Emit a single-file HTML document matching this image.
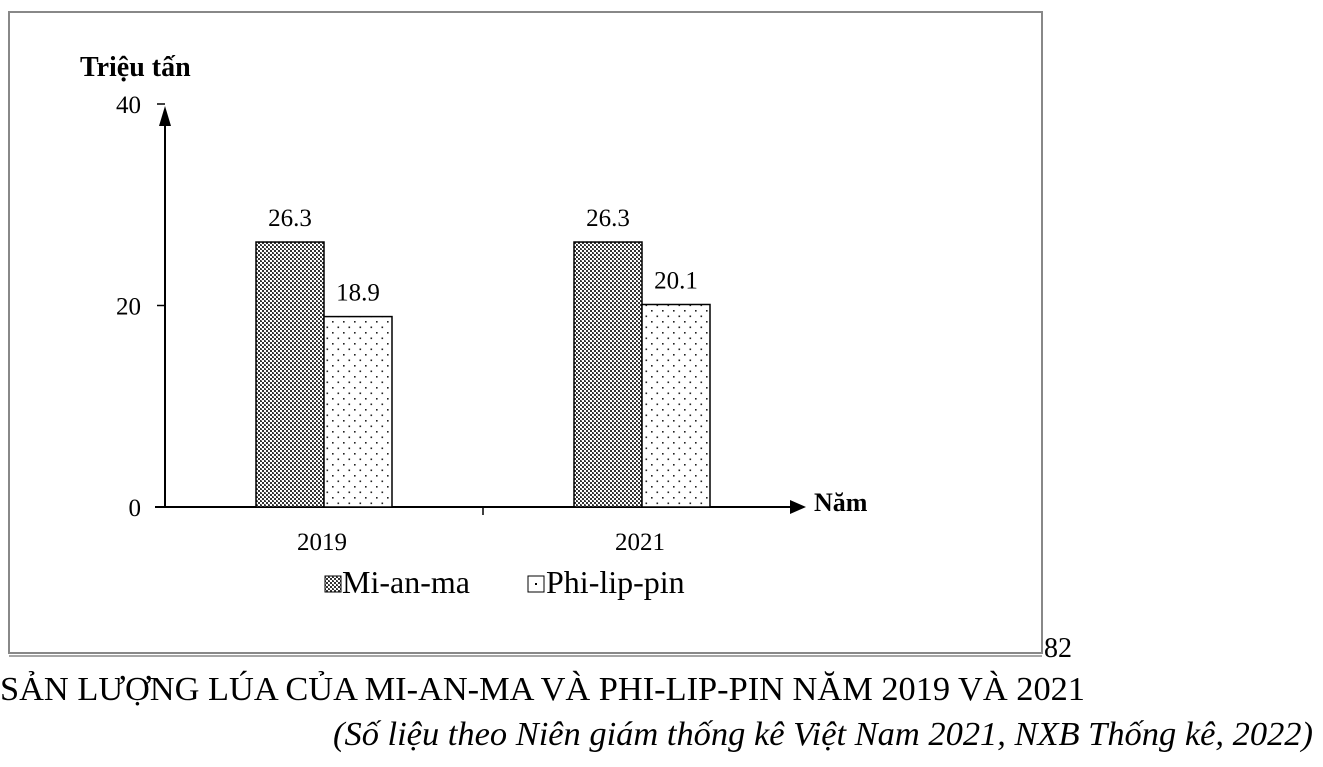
<!DOCTYPE html>
<html><head><meta charset="utf-8"><style>
body{margin:0;background:#fff;width:1323px;height:767px;overflow:hidden;font-family:"Liberation Serif",serif}
svg{position:absolute;left:0;top:0}
</style></head><body>
<svg width="1323" height="767">
<defs>
<pattern id="dark" width="4" height="4" patternUnits="userSpaceOnUse"><rect width="4" height="4" fill="#fff"/><rect width="2" height="2" fill="#333"/><rect x="2" y="2" width="2" height="2" fill="#333"/><rect x="1" y="0" width="1" height="1" fill="#777"/></pattern>
<pattern id="dots" width="11" height="11" patternUnits="userSpaceOnUse"><rect width="11" height="11" fill="#fff"/><rect x="2" y="2" width="1.6" height="1.6" fill="#222"/><rect x="7.5" y="7.5" width="1.6" height="1.6" fill="#222"/></pattern>
</defs>
<rect x="9" y="12" width="1033" height="641" fill="none" stroke="#888" stroke-width="2"/>
<line x1="9" y1="656" x2="1042" y2="656" stroke="#888" stroke-width="1.5"/>
<g id="plot"></g>
<text x="80" y="76" font-size="28" font-weight="bold">Triệu tấn</text>
<text x="814" y="511" font-size="26" font-weight="bold">Năm</text>
<g font-size="32">
<rect x="325" y="576" width="16" height="16" fill="url(#dark)" stroke="#000"/>
<text x="342" y="593">Mi-an-ma</text>
<rect x="528" y="576" width="16" height="16" fill="#fff" stroke="#000"/>
<rect x="535" y="583" width="2" height="2" fill="#000"/>
<text x="546" y="593">Phi-lip-pin</text>
</g>
<text x="1044" y="657" font-size="28">82</text>
<text x="0" y="700" font-size="34" textLength="1085" lengthAdjust="spacingAndGlyphs">SẢN LƯỢNG LÚA CỦA MI-AN-MA VÀ PHI-LIP-PIN NĂM 2019 VÀ 2021</text>
<text x="333" y="745" font-size="34" font-style="italic" textLength="980" lengthAdjust="spacingAndGlyphs">(Số liệu theo Niên giám thống kê Việt Nam 2021, NXB Thống kê, 2022)</text>
</svg>
<script>
const categories=["2019","2021"];
const mianma=[26.3,26.3];
const philippin=[18.9,20.1];
const yTicks=[0,20,40];
const NS="http://www.w3.org/2000/svg";
const g=document.getElementById('plot');
const y0=507,yTop=104,yMax=40,xAxis=165;
const y=v=>y0-(v/yMax)*(y0-yTop);
const catW=318,barW=68;
const cx=i=>xAxis+catW*(i+0.5);
function el(t,a,p){const e=document.createElementNS(NS,t);for(const k in a)e.setAttribute(k,a[k]);(p||g).appendChild(e);return e;}
let ax=el('line',{x1:xAxis,y1:y0,x2:xAxis,y2:yTop+10,stroke:'#000','stroke-width':2});


el('polygon',{points:`${xAxis-6},${yTop+22} ${xAxis+6},${yTop+22} ${xAxis},${yTop+2}`,fill:'#000'});
let xa=el('line',{x1:xAxis-10,y1:y0,x2:795,y2:y0,stroke:'#000','stroke-width':2});


el('polygon',{points:`790,${y0-7} 790,${y0+7} 806,${y0}`,fill:'#000'});
el('line',{x1:xAxis+catW,y1:y0,x2:xAxis+catW,y2:y0+8,stroke:'#000','stroke-width':1.5});
yTicks.forEach(v=>{
 el('line',{x1:xAxis-8,y1:y(v),x2:xAxis,y2:y(v),stroke:'#000','stroke-width':1.5});
 const t=el('text',{x:xAxis-24,y:y(v)+9,'font-size':25,'text-anchor':'end'});t.textContent=v;
 
 
});
categories.forEach((c,i)=>{
 const t=el('text',{x:cx(i)-2,y:550,'font-size':25,'text-anchor':'middle'});t.textContent=c;
 
 
 [[mianma,'url(#dark)',-barW,'mianma'],[philippin,'url(#dots)',0,'philippin']].forEach(([arr,f,off,n])=>{
  const v=arr[i];
  const b=el('rect',{x:cx(i)+off,y:y(v),width:barW,height:y0-y(v),fill:f,stroke:'#000','stroke-width':1.5});
  
  
  const l=el('text',{x:cx(i)+off+barW/2,y:y(v)-16,'font-size':25,'text-anchor':'middle'});l.textContent=v.toFixed(1);
  
  
 });
});
</script>
</body></html>
